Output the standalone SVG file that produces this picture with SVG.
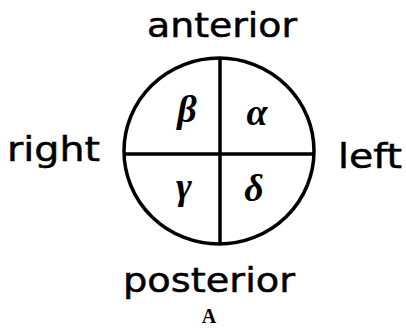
<svg xmlns="http://www.w3.org/2000/svg" width="406" height="329" viewBox="0 0 406 329">
<style>
.lbl{font-family:"DejaVu Sans",sans-serif;font-size:34px;fill:#000;stroke:#000;stroke-width:0.5}
.gr{font-family:"Liberation Serif",serif;font-style:italic;font-weight:bold;font-size:38px;fill:#000;text-anchor:middle}
.ln{stroke:#000;stroke-width:3.5;fill:none}
</style>
<rect width="406" height="329" fill="#fff"/>
<g id="circle">
<ellipse class="ln" cx="219" cy="151" rx="95" ry="93"/>
</g>
<g id="connectors">
<line class="ln" x1="220" y1="57" x2="220" y2="245"/>
<line class="ln" x1="123" y1="154" x2="315" y2="154"/>
</g>
<g id="beta"><text class="gr" x="187" y="122">β</text></g>
<g id="alpha"><text class="gr" x="257" y="125">α</text></g>
<g id="gamma"><text class="gr" x="184" y="199">γ</text></g>
<g id="delta"><text class="gr" x="254" y="201">δ</text></g>
<g id="anterior"><text class="lbl" x="147" y="37" textLength="150" lengthAdjust="spacingAndGlyphs">anterior</text></g>
<g id="posterior"><text class="lbl" x="123" y="292" textLength="172" lengthAdjust="spacingAndGlyphs">posterior</text></g>
<g id="right"><text class="lbl" x="7" y="161" textLength="93" lengthAdjust="spacingAndGlyphs">right</text></g>
<g id="left"><text class="lbl" x="338" y="168" textLength="64" lengthAdjust="spacingAndGlyphs">left</text></g>
<g id="caption"><text x="209" y="323" font-family="Liberation Serif,serif" font-weight="bold" font-size="20" text-anchor="middle">A</text></g>
</svg>
